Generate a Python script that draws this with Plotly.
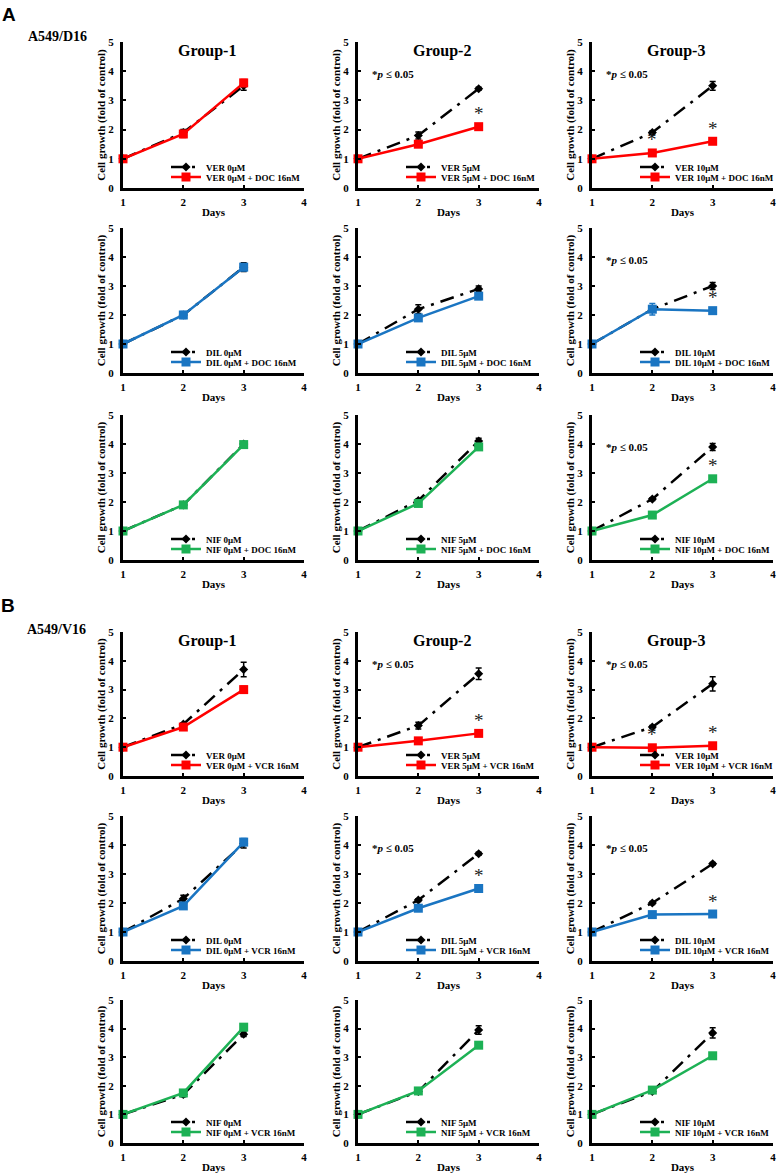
import plotly.graph_objects as go

# ---------------- data ----------------
days = [1, 2, 3]
x_ticks = [1, 2, 3, 4]
y_ticks = [0, 1, 2, 3, 4, 5]
group_titles = ["Group-1", "Group-2", "Group-3"]
doses = ["0μM", "5μM", "10μM"]
drugs = ["VER", "DIL", "NIF", "VER", "DIL", "NIF"]
combos = ["DOC 16nM", "DOC 16nM", "DOC 16nM", "VCR 16nM", "VCR 16nM", "VCR 16nM"]

# Panel A (A549/D16) -- DOC 16nM
A_VER_ctrl = [[1.0, 1.90, 3.50], [1.0, 1.80, 3.40], [1.0, 1.90, 3.50]]
A_VER_ctrl_err = [[0.0, 0.10, 0.15], [0.0, 0.12, 0.05], [0.0, 0.05, 0.15]]
A_VER_combo = [[1.0, 1.85, 3.60], [1.0, 1.50, 2.10], [1.0, 1.20, 1.60]]
A_VER_combo_err = [[0.05, 0.12, 0.12], [0.05, 0.06, 0.05], [0.05, 0.05, 0.05]]
A_VER_sig = [[], [3], [2, 3]]

A_DIL_ctrl = [[1.0, 2.00, 3.65], [1.0, 2.20, 2.90], [1.0, 2.20, 3.00]]
A_DIL_ctrl_err = [[0.0, 0.10, 0.15], [0.0, 0.15, 0.10], [0.0, 0.10, 0.12]]
A_DIL_combo = [[1.0, 2.00, 3.65], [1.0, 1.90, 2.65], [1.0, 2.20, 2.15]]
A_DIL_combo_err = [[0.05, 0.12, 0.12], [0.05, 0.06, 0.05], [0.05, 0.20, 0.10]]
A_DIL_sig = [[], [], [3]]

A_NIF_ctrl = [[1.0, 1.90, 4.00], [1.0, 2.05, 4.10], [1.0, 2.10, 3.90]]
A_NIF_ctrl_err = [[0.0, 0.05, 0.08], [0.0, 0.05, 0.10], [0.0, 0.05, 0.12]]
A_NIF_combo = [[1.0, 1.90, 3.98], [1.0, 1.95, 3.90], [1.0, 1.55, 2.80]]
A_NIF_combo_err = [[0.05, 0.08, 0.10], [0.05, 0.05, 0.05], [0.05, 0.05, 0.05]]
A_NIF_sig = [[], [], [3]]

# Panel B (A549/V16) -- VCR 16nM
B_VER_ctrl = [[1.0, 1.80, 3.70], [1.0, 1.75, 3.55], [1.0, 1.70, 3.20]]
B_VER_ctrl_err = [[0.0, 0.05, 0.25], [0.0, 0.12, 0.20], [0.0, 0.05, 0.25]]
B_VER_combo = [[1.0, 1.70, 3.00], [1.0, 1.22, 1.48], [1.0, 0.98, 1.05]]
B_VER_combo_err = [[0.05, 0.05, 0.12], [0.05, 0.05, 0.05], [0.05, 0.05, 0.05]]
B_VER_sig = [[], [3], [2, 3]]

B_DIL_ctrl = [[1.0, 2.15, 4.05], [1.0, 2.10, 3.70], [1.0, 2.00, 3.35]]
B_DIL_ctrl_err = [[0.0, 0.12, 0.15], [0.0, 0.05, 0.05], [0.0, 0.05, 0.05]]
B_DIL_combo = [[1.0, 1.90, 4.10], [1.0, 1.82, 2.50], [1.0, 1.60, 1.62]]
B_DIL_combo_err = [[0.05, 0.08, 0.12], [0.05, 0.06, 0.05], [0.05, 0.05, 0.05]]
B_DIL_sig = [[], [3], [3]]

B_NIF_ctrl = [[1.0, 1.70, 3.80], [1.0, 1.80, 3.95], [1.0, 1.80, 3.85]]
B_NIF_ctrl_err = [[0.0, 0.08, 0.08], [0.0, 0.05, 0.15], [0.0, 0.05, 0.18]]
B_NIF_combo = [[1.0, 1.75, 4.05], [1.0, 1.82, 3.42], [1.0, 1.85, 3.05]]
B_NIF_combo_err = [[0.05, 0.05, 0.08], [0.05, 0.05, 0.05], [0.05, 0.05, 0.08]]
B_NIF_sig = [[], [], []]

rows_data = [
    (A_VER_ctrl, A_VER_ctrl_err, A_VER_combo, A_VER_combo_err, A_VER_sig),
    (A_DIL_ctrl, A_DIL_ctrl_err, A_DIL_combo, A_DIL_combo_err, A_DIL_sig),
    (A_NIF_ctrl, A_NIF_ctrl_err, A_NIF_combo, A_NIF_combo_err, A_NIF_sig),
    (B_VER_ctrl, B_VER_ctrl_err, B_VER_combo, B_VER_combo_err, B_VER_sig),
    (B_DIL_ctrl, B_DIL_ctrl_err, B_DIL_combo, B_DIL_combo_err, B_DIL_sig),
    (B_NIF_ctrl, B_NIF_ctrl_err, B_NIF_combo, B_NIF_combo_err, B_NIF_sig),
]

# ---------------- style / layout ----------------
W, H = 784, 1174
SERIF = "Liberation Serif"
drug_colors = {"VER": "#FF0000", "DIL": "#1A75C2", "NIF": "#1DB155"}
col_px = [(123, 304), (358, 539), (592, 773)]
row_px = [(42, 188), (228, 373), (415, 560), (632, 776), (816, 961), (1000, 1143)]
LEG_TEXT_OFFSET = 83

fig = go.Figure()
layout = dict(
    width=W, height=H,
    margin=dict(l=0, r=0, t=0, b=0, autoexpand=False),
    paper_bgcolor="white", plot_bgcolor="white",
    showlegend=True,
    annotations=[],
)

leg_count = 0
for r in range(6):
    ctrl, ctrl_err, combo, combo_err, sig = rows_data[r]
    drug = drugs[r]
    color = drug_colors[drug]
    y0p, y1p = row_px[r]
    for c in range(3):
        idx = r * 3 + c + 1
        sfx = "" if idx == 1 else str(idx)
        xa, ya = "x" + sfx, "y" + sfx
        x0p, x1p = col_px[c]

        axis_font = dict(family=SERIF, size=11, color="black", weight="bold")
        layout["xaxis" + sfx] = dict(
            domain=[x0p / W, x1p / W], anchor=ya, range=[1, 4],
            tickvals=x_ticks, ticks="inside", ticklen=3, tickwidth=2, tickcolor="black",
            showline=True, linewidth=3, linecolor="black", showgrid=False, zeroline=False,
            tickfont=axis_font, ticklabelstandoff=2,
            title=dict(text="Days", font=axis_font, standoff=2),
        )
        layout["yaxis" + sfx] = dict(
            domain=[1 - y1p / H, 1 - y0p / H], anchor=xa, range=[0, 5],
            tickvals=y_ticks, ticks="inside", ticklen=3, tickwidth=2, tickcolor="black",
            showline=True, linewidth=3, linecolor="black", showgrid=False, zeroline=False,
            tickfont=axis_font, ticklabelstandoff=4,
            title=dict(text="Cell growth (fold of control)", font=axis_font, standoff=0),
        )

        name_ctrl = f"{drug} {doses[c]}"
        name_combo = f"{drug} {doses[c]} + {combos[r]}"

        leg_count += 1
        lg1 = "legend" if leg_count == 1 else f"legend{leg_count}"
        fig.add_trace(go.Scatter(
            x=days, y=ctrl[c], xaxis=xa, yaxis=ya, name=name_ctrl, legend=lg1,
            mode="lines+markers", cliponaxis=False,
            line=dict(color="black", width=2.5, dash="14px,7px,3px,7px"),
            marker=dict(symbol="diamond", size=7, color="black"),
            error_y=dict(type="data", array=ctrl_err[c], visible=True,
                         color="black", thickness=1.5, width=3),
        ))
        leg_count += 1
        lg2 = f"legend{leg_count}"
        fig.add_trace(go.Scatter(
            x=days, y=combo[c], xaxis=xa, yaxis=ya, name=name_combo, legend=lg2,
            mode="lines+markers", cliponaxis=False,
            line=dict(color=color, width=2.5),
            marker=dict(symbol="square", size=9, color=color),
            error_y=dict(type="data", array=combo_err[c], visible=True,
                         color=color, thickness=1.5, width=3),
        ))
        leg_font = dict(family=SERIF, size=9, color="black", weight="bold")
        for lg, dy in ((lg1, 21), (lg2, 11)):
            layout[lg] = dict(
                x=(x0p + LEG_TEXT_OFFSET - 40) / W, xanchor="left",
                y=1 - (y1p - dy) / H, yanchor="middle",
                bgcolor="rgba(0,0,0,0)", borderwidth=0, itemwidth=30,
                font=leg_font, itemclick=False, itemdoubleclick=False,
            )

        # group titles on the first row of each panel
        if r in (0, 3):
            layout["annotations"].append(dict(
                text=group_titles[c], x=2.4, y=4.7, xref=xa, yref=ya,
                showarrow=False, font=dict(family=SERIF, size=16, color="black", weight="bold"),
            ))
        # significance
        if sig[c]:
            layout["annotations"].append(dict(
                text="*<i>p</i> ≤ 0.05", x=1.2, y=3.9, xref=xa, yref=ya, xanchor="left",
                showarrow=False, font=dict(family=SERIF, size=11, color="black", weight="bold"),
            ))
            for d in sig[c]:
                layout["annotations"].append(dict(
                    text="*", x=d, y=combo[c][days.index(d)], xref=xa, yref=ya,
                    yshift=13, showarrow=False,
                    font=dict(family=SERIF, size=19, color="#222222"),
                ))

# panel labels
for txt, xp, yp, fam, sz in (("A", 9, 14, "Liberation Sans", 19),
                             ("B", 8, 605, "Liberation Sans", 19),
                             ("A549/D16", 57, 36, SERIF, 14),
                             ("A549/V16", 56, 629, SERIF, 14)):
    layout["annotations"].append(dict(
        text=txt, x=xp / W, y=1 - yp / H, xref="paper", yref="paper",
        xanchor="center", yanchor="middle",
        showarrow=False, font=dict(family=fam, size=sz, color="black", weight="bold"),
    ))

fig.update_layout(**layout)
fig.write_html(
    "out.html",
    config={"displayModeBar": False},
    post_script="document.body.style.margin='0px';document.body.style.overflow='hidden';",
)
